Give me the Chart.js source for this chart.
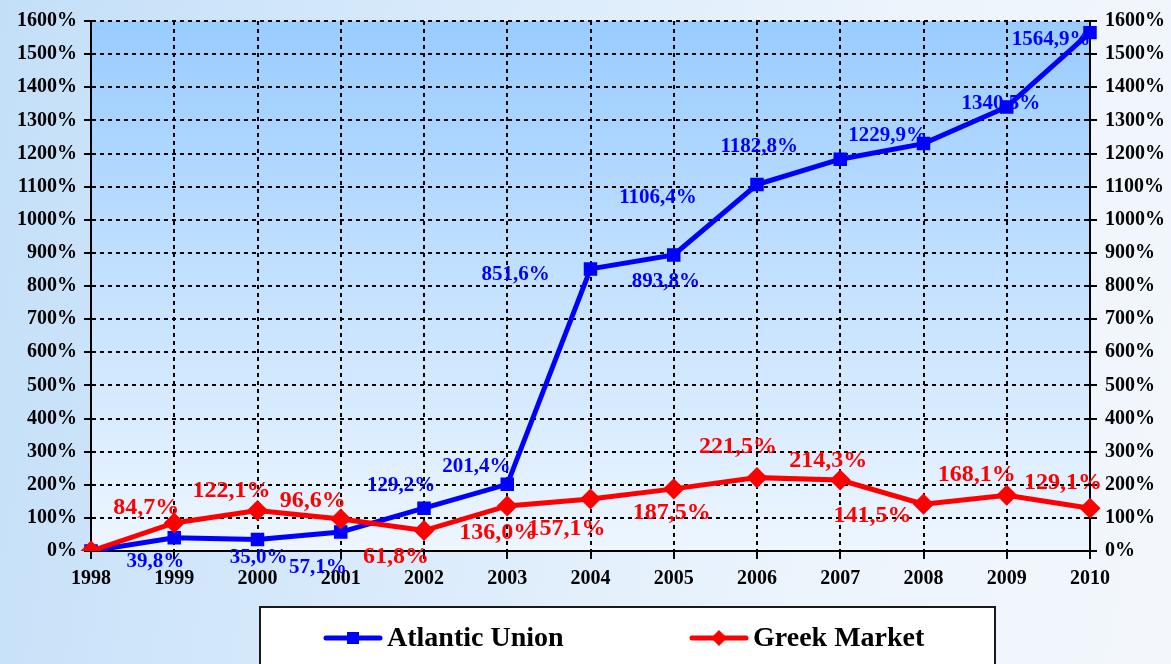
<!DOCTYPE html>
<html>
<head>
<meta charset="utf-8">
<script src="https://cdn.jsdelivr.net/npm/chart.js@4.4.1/dist/chart.umd.min.js"></script>
<style>
  html, body { margin: 0; padding: 0; }
  body {
    width: 1171px; height: 664px; overflow: hidden;
    background: linear-gradient(100deg, #c3dff8 0%, #d8eafb 35%, #ecf4fc 70%, #f3f7fc 100%);
  }
  #wrap { position: relative; width: 1171px; height: 664px; }
</style>
</head>
<body>
<div id="wrap"><canvas id="chart" width="1171" height="664"></canvas></div>
<script>
// Data
const years = ['1998', '1999', '2000', '2001', '2002', '2003', '2004', '2005', '2006', '2007', '2008', '2009', '2010'];
const atlanticUnion = [0, 39.8, 35.0, 57.1, 129.2, 201.4, 851.6, 893.8, 1106.4, 1182.8, 1229.9, 1340.5, 1564.9];
const greekMarket   = [0, 84.7, 122.1, 96.6, 61.8, 136.0, 157.1, 187.5, 221.5, 214.3, 141.5, 168.1, 129.1];
const yTicksMin = 0, yTicksMax = 1600, yStep = 100;

// Where each value label sits relative to its point (px), null = no label
const blueLabelOffsets = [null, [-19, 24], [1, 18], [-23, 35], [-23, -23], [-31, -18], [-75, 6],
  [-8, 27], [-99, 13], [-81, -13], [-36, -8], [-6, -3], [-39, 7]];
const redLabelOffsets = [null, [-28, -15], [-26, -20], [-28, -18], [-28, 26], [-9, 27], [-24, 30],
  [-2, 24], [-19, -31], [-12, -19], [-51, 12], [-30, -21], [-27, -25]];

const FONT = '"Liberation Serif", "Times New Roman", serif';
const BLUE = '#0000ff';
const RED = '#ff0000';

const fmt = v => v.toFixed(1).replace('.', ',') + '%';

// plot area gradient
const plotBg = {
  id: 'plotBg',
  beforeDraw(chart) {
    const { ctx, chartArea: a } = chart;
    const g = ctx.createLinearGradient(0, a.top, 0, a.bottom);
    g.addColorStop(0, '#99ccff');
    g.addColorStop(1, '#eef6ff');
    ctx.save();
    ctx.fillStyle = g;
    ctx.fillRect(a.left, a.top, a.right - a.left, a.bottom - a.top);
    ctx.restore();
  },
};

// value labels
const valueLabels = {
  id: 'valueLabels',
  afterDatasetsDraw(chart) {
    const { ctx } = chart;
    const sets = [
      { idx: 1, offs: redLabelOffsets, color: RED, size: 24 },
      { idx: 0, offs: blueLabelOffsets, color: BLUE, size: 21 },
    ];
    ctx.save();
    ctx.textAlign = 'center';
    ctx.textBaseline = 'middle';
    sets.forEach(s => {
      const ds = chart.data.datasets[s.idx];
      const meta = chart.getDatasetMeta(s.idx);
      ctx.fillStyle = s.color;
      ctx.font = `bold ${s.size}px ${FONT}`;
      for (let i = meta.data.length - 1; i >= 0; i--) {
        const o = s.offs[i];
        if (!o) continue;
        const p = meta.data[i];
        ctx.fillText(fmt(ds.data[i]), p.x + o[0], p.y + o[1]);
      }
    });
    ctx.restore();
  },
};

// right axis ticks cross the axis line
const crossTicks = {
  id: 'crossTicks',
  afterDraw(chart) {
    const { ctx } = chart;
    const s = chart.scales.y1;
    ctx.save();
    ctx.strokeStyle = '#000';
    ctx.lineWidth = 2;
    s.ticks.forEach(t => {
      const y = Math.round(s.getPixelForValue(t.value));
      ctx.beginPath();
      ctx.moveTo(s.left - 6, y);
      ctx.lineTo(s.left, y);
      ctx.stroke();
    });
    ctx.restore();
  },
};

// boxed legend under the axis
const boxLegend = {
  id: 'boxLegend',
  afterDraw(chart) {
    const { ctx } = chart;
    const items = [
      { ds: chart.data.datasets[0], x: 326, style: 'rect' },
      { ds: chart.data.datasets[1], x: 692, style: 'diamond' },
    ];
    const y = 638;
    ctx.save();
    ctx.fillStyle = '#ffffff';
    ctx.fillRect(260, 607, 735, 70);
    ctx.strokeStyle = '#1a1a1a';
    ctx.lineWidth = 2;
    ctx.strokeRect(260, 607, 735, 70);
    items.forEach(it => {
      const c = it.ds.borderColor;
      ctx.strokeStyle = c;
      ctx.fillStyle = c;
      ctx.lineWidth = 5;
      ctx.lineCap = 'round';
      ctx.beginPath();
      ctx.moveTo(it.x, y);
      ctx.lineTo(it.x + 54, y);
      ctx.stroke();
      const cx = it.x + 27;
      if (it.style === 'rect') {
        ctx.fillRect(cx - 6, y - 6, 12, 12);
      } else {
        ctx.beginPath();
        ctx.moveTo(cx, y - 8); ctx.lineTo(cx + 8, y); ctx.lineTo(cx, y + 8); ctx.lineTo(cx - 8, y);
        ctx.closePath(); ctx.fill();
      }
      ctx.fillStyle = '#000';
      ctx.font = `bold 28px ${FONT}`;
      ctx.textAlign = 'left';
      ctx.textBaseline = 'middle';
      ctx.fillText(it.ds.label, it.x + 61, y + 1);
    });
    ctx.restore();
  },
};

const yTick = { color: '#000', font: { family: FONT, size: 20, weight: 'bold' }, stepSize: yStep, callback: v => v + '%' };

new Chart(document.getElementById('chart').getContext('2d'), {
  type: 'line',
  data: {
    labels: years,
    datasets: [
      { label: 'Atlantic Union', data: atlanticUnion, borderColor: BLUE, backgroundColor: BLUE,
        borderWidth: 5, pointStyle: 'rect', pointRadius: 6, pointHoverRadius: 6, tension: 0, order: 2, yAxisID: 'y' },
      { label: 'Greek Market', data: greekMarket, borderColor: RED, backgroundColor: RED,
        borderWidth: 5, pointStyle: 'rectRot', pointRadius: 7, pointHoverRadius: 7, tension: 0, order: 1, yAxisID: 'y' },
    ],
  },
  options: {
    responsive: false,
    animation: false,
    layout: { padding: { top: 21, left: 0, right: 0, bottom: 0 } },
    plugins: { legend: { display: false }, tooltip: { enabled: false } },
    scales: {
      x: {
        type: 'category',
        offset: false,
        afterFit: s => { s.height = 113; },
        ticks: { color: '#000', font: { family: FONT, size: 20, weight: 'bold' }, padding: 8, maxRotation: 0, autoSkip: false },
        grid: { color: '#000', lineWidth: 2, tickLength: 8, tickWidth: 2, offset: false },
        border: { display: true, color: '#000', width: 2, dash: [4, 4] },
      },
      y: {
        position: 'left',
        min: yTicksMin, max: yTicksMax,
        afterFit: s => { s.width = 91; },
        ticks: { ...yTick, padding: 7 },
        grid: { color: '#000', lineWidth: 2, tickLength: 7, tickWidth: 2 },
        border: { display: true, color: '#000', width: 2, dash: [4, 4] },
      },
      y1: {
        position: 'right',
        min: yTicksMin, max: yTicksMax,
        afterFit: s => { s.width = 81; },
        ticks: { ...yTick, padding: 8 },
        grid: { drawOnChartArea: false, color: '#000', lineWidth: 2, tickLength: 7, tickWidth: 2 },
        border: { display: true, color: '#000', width: 2 },
      },
    },
  },
  plugins: [plotBg, valueLabels, crossTicks, boxLegend],
});
</script>
</body>
</html>
